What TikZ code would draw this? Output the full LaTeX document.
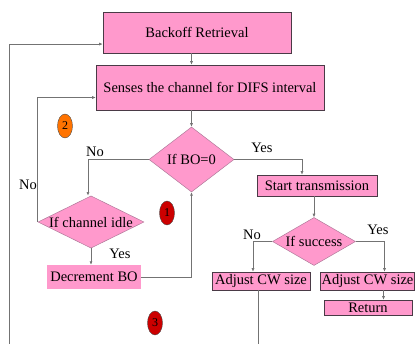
\documentclass[tikz,border=0pt]{standalone}
\usepackage{fontspec}
\setmainfont{Liberation Serif}
\usetikzlibrary{shapes.geometric,arrows.meta}
\definecolor{flowpink}{HTML}{FF99CC}
\definecolor{boxedge}{HTML}{4A3A46}
\definecolor{diaedge}{HTML}{B07A9A}

\begin{document}
\begin{tikzpicture}[x=1pt,y=-1pt,
		font=\fontsize{14.5}{16}\selectfont,
		box/.style={rectangle, fill=flowpink, draw=boxedge, line width=0.6pt, inner sep=1pt},
		decision/.style={diamond, fill=flowpink, draw=diaedge, line width=0.5pt, inner sep=0pt},
		numtag/.style={ellipse, draw=black!70, line width=0.4pt, minimum width=15pt,
			minimum height=24pt, inner sep=0pt, font=\fontsize{12}{12}\selectfont},
		line/.style={draw=black!55, line width=0.6pt},
		arr/.style={line, -{Latex[length=3.5pt,width=3pt]}}]
	\useasboundingbox (0,0) rectangle (417,344);

	% boxes and decisions
	\node[box, minimum width=188pt, minimum height=41pt] (retr) at(197,32.5){Backoff Retrieval};
	\node[box, minimum width=228pt, minimum height=45pt] (sense) at(210,87.5){Senses the channel for DIFS interval};
	\node[decision, aspect=1.3, minimum width=85pt, minimum height=65pt] (bo) at(191.5,159.5){If BO=0};
	\node[decision, aspect=2, minimum width=106pt, minimum height=52pt] (idle) at(91,222){If channel idle};
	\node[rectangle, fill=flowpink, inner sep=1pt, minimum width=94pt, minimum height=24pt] (dec) at(94,277){Decrement BO};
	\node[box, minimum width=120pt, minimum height=21pt] (tx) at(317,185.5){Start transmission};
	\node[decision, aspect=1.7, minimum width=83pt, minimum height=48pt] (succ) at(314,241.5){If success};
	\node[box, minimum width=98pt, minimum height=18pt] (cwl) at(261,281){Adjust CW size};
	\node[box, minimum width=91pt, minimum height=18pt] (cwr) at(367.5,281){Adjust CW size};
	\node[box, minimum width=88pt, minimum height=15pt] (ret) at(368,307.5){Return};

	% numbered tags
	\node[numtag, fill=red!80!black] (tag1) at(167,213){1};
	\node[numtag, fill=orange!90!red] (tag2) at(65,126){2};
	\node[numtag, fill=red!80!black] (tag3) at(155,323){3};

	% branch labels
	\node (no1) at(95,152){No};
	\node (no2) at(28,185){No};
	\node (yes1) at(120,254){Yes};
	\node (yes2) at(262,148){Yes};
	\node (no3) at(252,235){No};
	\node (yes3) at(378,230){Yes};

	% connectors
	\coordinate (low1) at(9,344);
	\coordinate (low2) at(258,344);
	\draw[arr] (low1) |- (retr.187);
	\draw[arr] (retr.south -| bo.north) -- (sense.north -| bo.north);
	\draw[arr] (sense.south -| bo.north) -- (bo.north);
	\draw[arr] (bo.west) -| ([xshift=-3pt]idle.north);
	\draw[arr] (idle.west) |- (sense.185);
	\draw[arr] (idle.south) -- (idle.south |- dec.north);
	\draw[arr] (dec.east) -| (bo.south);
	\draw[arr] (bo.east) -| ([xshift=-15pt]tx.north);
	\draw[arr] (tx.south -| succ.north) -- (succ.north);
	\draw[arr] (succ.west) -| ([xshift=-8pt]cwl.north);
	\draw[arr] (succ.east) -| ([xshift=17pt]cwr.north);
	\draw[arr] ([xshift=16pt]cwr.south) -- ([xshift=16pt]cwr.south |- ret.north);
	\draw[line] ([xshift=-3pt]cwl.south) -- (low2);
\end{tikzpicture}
\end{document}
